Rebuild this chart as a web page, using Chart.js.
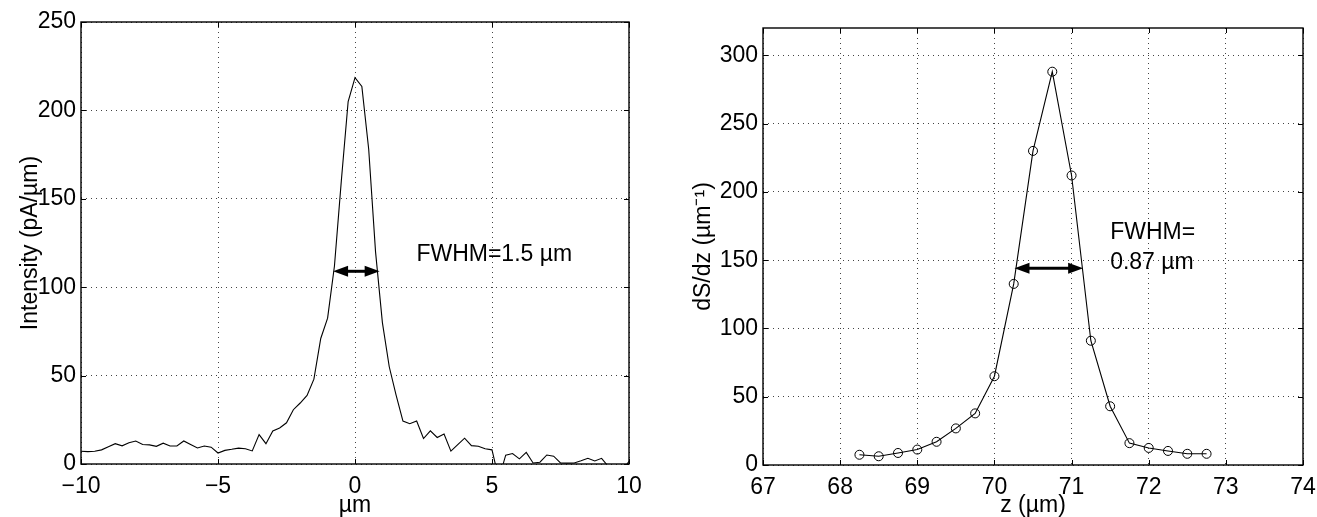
<!DOCTYPE html>
<html>
<head>
<meta charset="utf-8">
<script src="https://cdn.jsdelivr.net/npm/chart.js@4"></script>
<style>
  body { margin: 0; background: #fff; width: 1317px; height: 517px; overflow: hidden; position: relative; }
  canvas { position: absolute; top: 0; }
  #perfil { left: 0; }
  #derivada { left: 660px; }
</style>
</head>
<body>
<canvas id="perfil" width="660" height="517"></canvas>
<canvas id="derivada" width="657" height="517"></canvas>
<script>
// perfil de intensidad (izquierda)
const posicion = [-10, -9.75, -9.5, -9.25, -9, -8.75, -8.5, -8.25, -8, -7.75, -7.5, -7.25, -7, -6.75, -6.5, -6.25, -6, -5.75, -5.5, -5.25,
  -5, -4.75, -4.5, -4.25, -4, -3.75, -3.5, -3.25, -3, -2.75, -2.5, -2.25, -2, -1.75, -1.5, -1.25, -1, -0.75, -0.5, -0.25,
  0, 0.25, 0.5, 0.75, 1, 1.25, 1.5, 1.75, 2, 2.25, 2.5, 2.75, 3, 3.25, 3.5, 3.75, 4, 4.25, 4.5, 4.75,
  5, 5.25, 5.5, 5.75, 6, 6.25, 6.5, 6.75, 7, 7.25, 7.5, 7.75, 8, 8.25, 8.5, 8.75, 9, 9.25, 9.5, 9.75, 10];
const intensidad = [7.2, 7.0, 7.2, 8.0, 9.8, 11.5, 10.3, 12.0, 13.0, 11.0, 10.8, 10.0, 11.8, 10.2, 10.2, 13.0, 11.0, 9.1, 10.2, 9.5,
  6.2, 7.7, 8.3, 9.0, 8.6, 7.4, 16.6, 11.5, 18.7, 20.4, 23.3, 30.7, 34.5, 38.8, 48.0, 71.0, 82.5, 112, 160, 205,
  218.5, 213.5, 178, 120, 80, 55, 39, 24.3, 22.8, 24.3, 14.4, 18.8, 15.0, 17.0, 7.3, 11.0, 14.6, 10.4, 10.0, 8.6,
  8.0, -8.5, 5.0, 5.9, 2.9, 6.6, 0.6, 1.0, 5.1, 4.4, 0.6, 0.5, 0.6, 1.8, 3.2, 1.7, 3.2, -1.5, -3.0, -3.9, 1.5];
const ticksPos = [-10, -5, 0, 5, 10];
const ticksInt = [0, 50, 100, 150, 200, 250];
const fwhmIzq = [-0.8, 0.9];
const nivelIzq = 109;

// derivada dS/dz (derecha)
const zPos = [68.25, 68.5, 68.75, 69, 69.25, 69.5, 69.75, 70, 70.25, 70.5, 70.75, 71, 71.25, 71.5, 71.75, 72, 72.25, 72.5, 72.75];
const dSdz = [7.5, 6.4, 8.8, 11.3, 17.0, 26.8, 37.8, 65.0, 132.6, 230, 288, 212, 91, 43, 16, 12.5, 10.3, 8.2, 8.2];
const ticksZ = [67, 68, 69, 70, 71, 72, 73, 74];
const ticksD = [0, 50, 100, 150, 200, 250, 300];
const fwhmDer = [70.26, 71.15];
const nivelDer = 144;

const fuente = '"Liberation Sans", Arial, Helvetica, sans-serif';
const menos = v => (v < 0 ? '\u2212' + Math.abs(v) : String(v));

// caja, marcas hacia dentro, flecha y texto al estilo matlab
const ejesMatlab = {
  id: 'ejesMatlab',
  afterDatasetsDraw(chart, args, opts) {
    const { ctx, chartArea: a, scales: { x, y } } = chart;
    ctx.save();
    ctx.strokeStyle = '#000';
    ctx.lineWidth = 1.4;
    ctx.strokeRect(a.left, a.top, a.right - a.left, a.bottom - a.top);
    ctx.lineWidth = 1;
    ctx.beginPath();
    x.ticks.forEach(t => {
      const px = Math.round(x.getPixelForValue(t.value)) + 0.5;
      ctx.moveTo(px, a.bottom); ctx.lineTo(px, a.bottom - 5);
      ctx.moveTo(px, a.top); ctx.lineTo(px, a.top + 5);
    });
    y.ticks.forEach(t => {
      const py = Math.round(y.getPixelForValue(t.value)) + 0.5;
      ctx.moveTo(a.left, py); ctx.lineTo(a.left + 5, py);
      ctx.moveTo(a.right, py); ctx.lineTo(a.right - 5, py);
    });
    ctx.stroke();

    // flecha doble FWHM
    const x1 = x.getPixelForValue(opts.flecha[0]);
    const x2 = x.getPixelForValue(opts.flecha[1]);
    const yf = y.getPixelForValue(opts.nivel);
    const largo = 15, medio = 5.5;
    ctx.lineWidth = 3;
    ctx.beginPath();
    ctx.moveTo(x1 + largo - 2, yf); ctx.lineTo(x2 - largo + 2, yf);
    ctx.stroke();
    ctx.fillStyle = '#000';
    ctx.beginPath();
    ctx.moveTo(x1, yf); ctx.lineTo(x1 + largo, yf - medio); ctx.lineTo(x1 + largo, yf + medio); ctx.closePath();
    ctx.moveTo(x2, yf); ctx.lineTo(x2 - largo, yf - medio); ctx.lineTo(x2 - largo, yf + medio); ctx.closePath();
    ctx.fill();

    ctx.font = '23px ' + fuente;
    ctx.textBaseline = 'alphabetic';
    ctx.textAlign = 'left';
    opts.notas.forEach(n => ctx.fillText(n.texto, x.getPixelForValue(n.x), y.getPixelForValue(n.y)));
    ctx.restore();
  }
};

function escala(min, max, valores, padTick, extra) {
  return Object.assign({
    type: 'linear',
    min: min,
    max: max,
    afterBuildTicks: s => { s.ticks = valores.map(v => ({ value: v })); },
    grid: { color: '#444', lineWidth: 1, drawTicks: false },
    border: { display: false, dash: [1, 4] },
    ticks: { color: '#000', padding: padTick, font: { family: fuente, size: 23 }, callback: menos, autoSkip: false, maxRotation: 0 }
  }, extra);
}

function grafico(id, xs, ys, cfg) {
  const datos = xs.map((v, i) => ({ x: v, y: ys[i] }));
  return new Chart(document.getElementById(id), {
    type: 'line',
    data: {
      datasets: [{
        data: datos,
        borderColor: '#000',
        borderWidth: 1.1,
        tension: 0,
        pointRadius: cfg.radio,
        pointBorderColor: '#000',
        pointBackgroundColor: 'rgba(0,0,0,0)',
        pointBorderWidth: 1
      }]
    },
    options: {
      responsive: false,
      animation: false,
      devicePixelRatio: 1,
      layout: { padding: cfg.padding },
      plugins: {
        legend: { display: false },
        tooltip: { enabled: false },
        ejesMatlab: { flecha: cfg.flecha, nivel: cfg.nivel, notas: cfg.notas }
      },
      scales: {
        x: escala(cfg.xmin, cfg.xmax, cfg.xticks, 9, {
          afterFit: s => { s.height = cfg.alto; s.paddingLeft = 0; s.paddingRight = 0; },
          title: { display: true, text: cfg.tituloX, color: '#000', font: { family: fuente, size: 23, lineHeight: 1 }, padding: { top: 0, bottom: 0 } }
        }),
        y: escala(cfg.ymin, cfg.ymax, cfg.yticks, 5, {
          afterFit: s => { s.width = cfg.ancho; s.paddingTop = 0; s.paddingBottom = 0; },
          title: { display: true, text: cfg.tituloY, color: '#000', font: { family: fuente, size: 23 }, padding: { top: cfg.padTitulo, bottom: 0 } }
        })
      }
    },
    plugins: [ejesMatlab]
  });
}

grafico('perfil', posicion, intensidad, {
  radio: 0,
  padding: { top: 22, right: 31, left: 0, bottom: 0 },
  xmin: -10, xmax: 10, xticks: ticksPos,
  ymin: 0, ymax: 250, yticks: ticksInt,
  alto: 53, ancho: 81, padTitulo: 17,
  tituloX: '\u00b5m', tituloY: 'Intensity (pA/\u00b5m)',
  flecha: fwhmIzq, nivel: nivelIzq,
  notas: [{ texto: 'FWHM=1.5 \u00b5m', x: 2.24, y: 115 }]
});

grafico('derivada', zPos, dSdz, {
  radio: 4.5,
  padding: { top: 28, right: 14, left: 0, bottom: 0 },
  xmin: 67, xmax: 74, xticks: ticksZ,
  ymin: 0, ymax: 320, yticks: ticksD,
  alto: 52, ancho: 103, padTitulo: 30,
  tituloX: 'z (\u00b5m)', tituloY: 'dS/dz (\u00b5m\u207b\u00b9)',
  flecha: fwhmDer, nivel: nivelDer,
  notas: [{ texto: 'FWHM=', x: 71.5, y: 165.5 }, { texto: '0.87 \u00b5m', x: 71.5, y: 143.5 }]
});
</script>
</body>
</html>
